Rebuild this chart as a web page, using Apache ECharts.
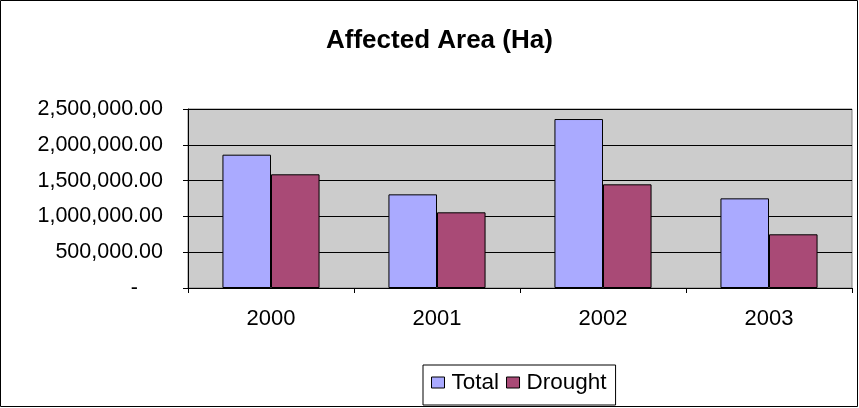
<!DOCTYPE html>
<html><head><meta charset="utf-8">
<script src="https://cdn.jsdelivr.net/npm/echarts@6/dist/echarts.min.js"></script>
<style>html,body{margin:0;padding:0;background:#fff}#c{width:859px;height:408px}</style>
</head><body><div id="c"></div>
<script>
const categories = ['2000', '2001', '2002', '2003'];
const totalValues = [1862000, 1308000, 2360000, 1252000];
const droughtValues = [1588000, 1057000, 1448000, 750000];
const seriesNames = ['Total', 'Drought'];

const fmt = v => v === 0 ? '{d|-}' : '{n|' + v.toLocaleString('en-US', {minimumFractionDigits: 2, maximumFractionDigits: 2}) + '}';
const chart = echarts.init(document.getElementById('c'));
chart.setOption({
  animation: false,
  textStyle: {fontFamily: 'Liberation Sans'},
  title: {text: 'Affected Area (Ha)', left: 321, top: 23, textStyle: {fontSize: 26, fontWeight: 'bold', color: '#000', fontFamily: 'Liberation Sans'}},
  graphic: [{type: 'rect', shape: {x: 0.5, y: 0.5, width: 857, height: 406}, style: {fill: 'none', stroke: '#000', lineWidth: 1}, silent: true}],
  legend: {
    data: seriesNames, top: 365, left: 423, icon: 'rect', itemWidth: 13, itemHeight: 11, itemGap: 7,
    borderColor: '#000', borderWidth: 1, padding: [6, 9, 11, 8],
    itemStyle: {borderColor: '#000', borderWidth: 1},
    textStyle: {fontSize: 22.5, color: '#000', padding: [0, 0, 0, 2], fontFamily: 'Liberation Sans'}
  },
  grid: {left: 188, right: 7, top: 109, bottom: 120, show: true, backgroundColor: '#cccccc', borderColor: '#808080', borderWidth: 1},
  xAxis: {
    type: 'category', data: categories,
    axisLine: {lineStyle: {color: '#000'}},
    axisTick: {show: true, alignWithLabel: false, length: 5, lineStyle: {color: '#000'}},
    axisLabel: {fontSize: 22, color: '#000', margin: 19.5, fontFamily: 'Liberation Sans'}
  },
  yAxis: {
    type: 'value', min: 0, max: 2500000, interval: 500000,
    axisLine: {show: true, lineStyle: {color: '#000'}},
    axisTick: {show: true, length: 5, lineStyle: {color: '#000'}},
    splitLine: {lineStyle: {color: '#000', width: 1}},
    axisLabel: {fontSize: 21.5, color: '#000', margin: 25, formatter: fmt, fontFamily: 'Liberation Sans',
      rich: {
        n: {fontSize: 21.5, color: '#000', fontFamily: 'Liberation Sans'},
        d: {fontSize: 21.5, color: '#000', fontFamily: 'Liberation Sans', padding: [0, 25, 0, 0]}
      }}
  },
  series: [
    {name: 'Total', type: 'bar', data: totalValues, barGap: '0%', barCategoryGap: '41.5%',
     itemStyle: {color: '#aaaaff', borderColor: '#000', borderWidth: 1}},
    {name: 'Drought', type: 'bar', data: droughtValues,
     itemStyle: {color: '#a94a76', borderColor: '#000', borderWidth: 1}}
  ]
});
</script></body></html>
